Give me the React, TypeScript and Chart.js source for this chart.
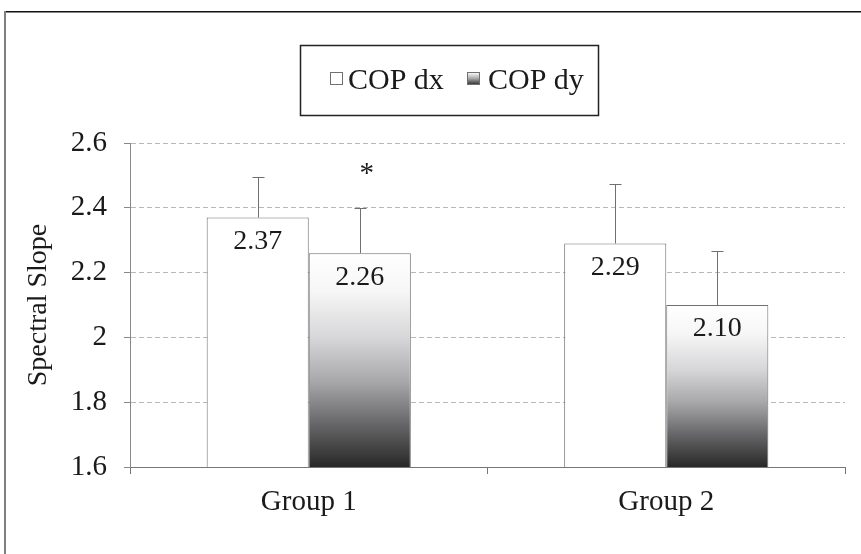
import { useEffect, useRef } from "react";
import { Chart, registerables } from "chart.js";

Chart.register(...registerables);

const categories = ["Group 1", "Group 2"];
const seriesNames = ["COP dx", "COP dy"];
const copDx = [2.37, 2.29];
const copDy = [2.26, 2.1];
const copDxErr = [0.125, 0.183];
const copDyErr = [0.14, 0.167];
const copDySignificant = [true, false];
const yTicks = [1.6, 1.8, 2.0, 2.2, 2.4, 2.6];
const yTickLabels = ["1.6", "1.8", "2", "2.2", "2.4", "2.6"];

const FONT = "'Liberation Serif', 'DejaVu Serif', serif";

function dyGradient(c: any) {
  const chart = c.chart;
  const { chartArea, scales } = chart;
  if (!chartArea || c.type !== "data" || !scales.y) return "#888";
  const top = scales.y.getPixelForValue(c.raw as number);
  const bottom = scales.y.getPixelForValue(scales.y.min);
  const g = chart.ctx.createLinearGradient(0, top, 0, bottom);
  g.addColorStop(0, "#ffffff");
  g.addColorStop(0.18, "#f6f6f6");
  g.addColorStop(0.4, "#d6d6d8");
  g.addColorStop(0.6, "#a8a8aa");
  g.addColorStop(0.8, "#666668");
  g.addColorStop(1, "#282828");
  return g;
}

const overlayPlugin = {
  id: "overlay",
  beforeDraw(chart: any) {
    const ctx = chart.ctx;
    ctx.save();
    ctx.fillStyle = "#ffffff";
    ctx.fillRect(0, 0, chart.width, chart.height);
    ctx.fillStyle = "#111111";
    ctx.fillRect(4, 11, chart.width - 4, 1.5);
    ctx.fillStyle = "#808080";
    ctx.fillRect(4, 11, 2, chart.height - 11);
    ctx.restore();
  },
  afterDatasetsDraw(chart: any) {
    const ctx = chart.ctx;
    const yScale = chart.scales.y;
    const errs = [copDxErr, copDyErr];
    ctx.save();
    chart.data.datasets.forEach((ds: any, di: number) => {
      const meta = chart.getDatasetMeta(di);
      meta.data.forEach((bar: any, i: number) => {
        const v = ds.data[i] as number;
        const topPx = Math.round(yScale.getPixelForValue(v + errs[di][i])) + 0.5;
        const x = Math.round(bar.x) + 0.5;
        ctx.strokeStyle = "#707070";
        ctx.lineWidth = 1;
        ctx.beginPath();
        ctx.moveTo(x, bar.y);
        ctx.lineTo(x, topPx);
        ctx.moveTo(x - 6, topPx);
        ctx.lineTo(x + 6, topPx);
        ctx.stroke();

        ctx.fillStyle = "#1a1a1a";
        ctx.font = `28px ${FONT}`;
        ctx.textAlign = "center";
        ctx.textBaseline = "middle";
        ctx.fillText(v.toFixed(2), bar.x, bar.y + 24);

        if (di === 1 && copDySignificant[i]) {
          ctx.font = `29px ${FONT}`;
          ctx.textBaseline = "alphabetic";
          ctx.fillText("*", bar.x + 7, topPx - 27);
        }
      });
    });

    // legend box
    ctx.strokeStyle = "#222222";
    ctx.lineWidth = 1.5;
    ctx.strokeRect(300.5, 45.5, 298, 70);
    const itemX = [330, 467];
    const textX = [348, 488];
    chart.data.datasets.forEach((ds: any, di: number) => {
      const bx = itemX[di] + 0.5;
      const by = 72.5;
      if (di === 0) {
        ctx.fillStyle = "#ffffff";
      } else {
        const g = ctx.createLinearGradient(0, by, 0, by + 12);
        g.addColorStop(0, "#ffffff");
        g.addColorStop(0.5, "#a8a8aa");
        g.addColorStop(1, "#303030");
        ctx.fillStyle = g;
      }
      ctx.fillRect(bx, by, 12, 12);
      ctx.strokeStyle = "#707070";
      ctx.lineWidth = 1;
      ctx.strokeRect(bx, by, 12, 12);
      ctx.fillStyle = "#1a1a1a";
      ctx.font = `30px ${FONT}`;
      ctx.textAlign = "left";
      ctx.textBaseline = "alphabetic";
      ctx.fillText(ds.label, textX[di], 89);
    });
    ctx.restore();
  },
};

export default function App() {
  const ref = useRef<HTMLCanvasElement | null>(null);

  useEffect(() => {
    document.body.style.margin = "0";
    const canvas = ref.current;
    if (!canvas) return;
    const chart = new Chart(canvas, {
      type: "bar",
      data: {
        labels: categories,
        datasets: [
          {
            label: seriesNames[0],
            data: copDx,
            backgroundColor: "#ffffff",
            borderColor: "#707070",
            borderWidth: 1,
            borderSkipped: "bottom",
            barPercentage: 1,
            categoryPercentage: 0.571,
          },
          {
            label: seriesNames[1],
            data: copDy,
            backgroundColor: dyGradient as any,
            borderColor: "#707070",
            borderWidth: 1,
            borderSkipped: "bottom",
            barPercentage: 1,
            categoryPercentage: 0.571,
          },
        ],
      },
      options: {
        responsive: false,
        animation: false,
        layout: { padding: { top: 143, left: 22, right: 16, bottom: 0 } },
        plugins: {
          legend: { display: false },
          tooltip: { enabled: false },
        },
        scales: {
          x: {
            grid: {
              display: true,
              drawOnChartArea: false,
              drawTicks: true,
              tickLength: 7,
              offset: true,
              color: "#777777",
              tickColor: "#777777",
            },
            border: { display: true, color: "#777777", width: 1 },
            ticks: {
              font: { family: FONT, size: 29 },
              color: "#1a1a1a",
              padding: 11,
            },
            afterFit: (s: any) => {
              s.height = 87;
            },
          },
          y: {
            min: 1.6,
            max: 2.6,
            afterBuildTicks: (s: any) => {
              s.ticks = yTicks.map((v) => ({ value: v }));
            },
            grid: {
              color: (c: any) =>
                c.tick && c.tick.value <= 1.6001 ? "rgba(0,0,0,0)" : "#b8b8b8",
              tickColor: "#888888",
              tickLength: 6,
              drawTicks: true,
            },
            border: { display: true, color: "#888888", dash: [5, 3] },
            ticks: {
              font: { family: FONT, size: 29 },
              color: "#1a1a1a",
              padding: 17,
              callback: (_v: any, i: number) => yTickLabels[i],
            },
            title: {
              display: true,
              text: "Spectral Slope",
              font: { family: FONT, size: 28 },
              color: "#1a1a1a",
              padding: 0,
            },
            afterFit: (s: any) => {
              s.width = 108;
            },
          },
        },
      },
      plugins: [overlayPlugin],
    });
    return () => chart.destroy();
  }, []);

  return (
    <canvas
      ref={ref}
      width={861}
      height={554}
      style={{ display: "block", width: 861, height: 554 }}
    />
  );
}
